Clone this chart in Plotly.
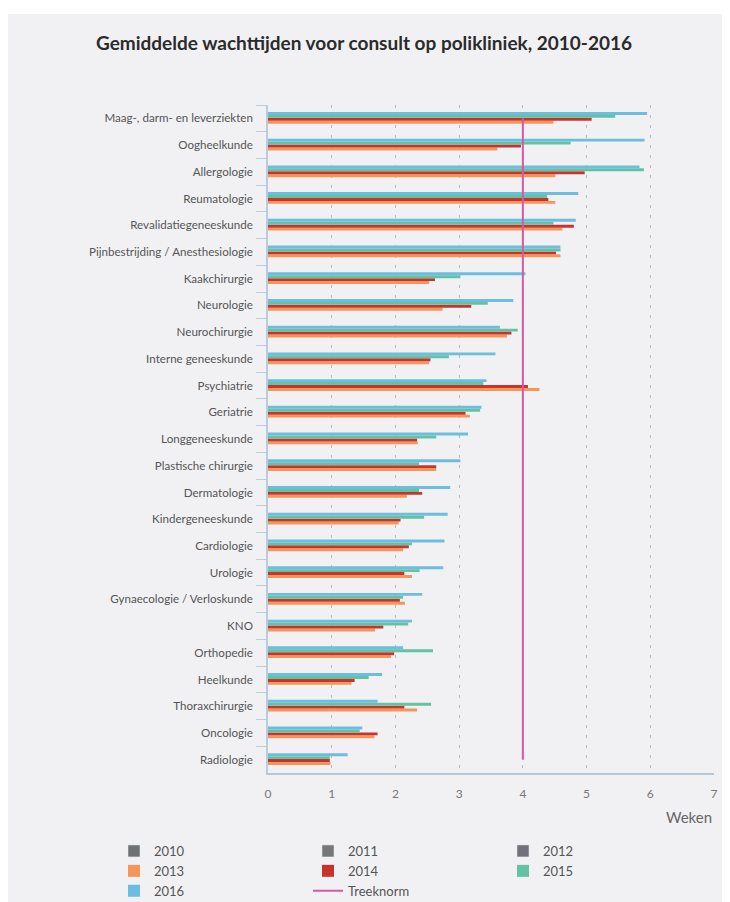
import plotly.graph_objects as go

categories = [
    "Maag-, darm- en leverziekten", "Oogheelkunde", "Allergologie", "Reumatologie",
    "Revalidatiegeneeskunde", "Pijnbestrijding / Anesthesiologie", "Kaakchirurgie",
    "Neurologie", "Neurochirurgie", "Interne geneeskunde", "Psychiatrie", "Geriatrie",
    "Longgeneeskunde", "Plastische chirurgie", "Dermatologie", "Kindergeneeskunde",
    "Cardiologie", "Urologie", "Gynaecologie / Verloskunde", "KNO", "Orthopedie",
    "Heelkunde", "Thoraxchirurgie", "Oncologie", "Radiologie",
]

v2016 = [5.95, 5.91, 5.83, 4.87, 4.83, 4.59, 4.04, 3.85, 3.64, 3.57, 3.43, 3.35,
         3.14, 3.02, 2.86, 2.82, 2.77, 2.75, 2.42, 2.26, 2.12, 1.79, 1.72, 1.48, 1.25]
v2015 = [5.45, 4.75, 5.90, 4.38, 4.48, 4.59, 3.02, 3.45, 3.92, 2.84, 3.38, 3.33,
         2.64, 2.37, 2.37, 2.45, 2.26, 2.38, 2.12, 2.20, 2.59, 1.58, 2.56, 1.44, 0.97]
v2014 = [5.08, 3.97, 4.97, 4.40, 4.80, 4.52, 2.62, 3.19, 3.82, 2.55, 4.08, 3.10,
         2.34, 2.64, 2.42, 2.08, 2.21, 2.14, 2.07, 1.81, 1.98, 1.36, 2.14, 1.72, 0.97]
v2013 = [4.48, 3.60, 4.51, 4.51, 4.62, 4.59, 2.53, 2.74, 3.75, 2.53, 4.26, 3.17,
         2.35, 2.64, 2.18, 2.05, 2.12, 2.26, 2.15, 1.68, 1.93, 1.31, 2.34, 1.67, 0.98]
# 2010-2012: listed in the legend, but no values shown in the chart
v2010 = [None]
v2011 = [None]
v2012 = [None]
treeknorm = 4

x_ticks = [0, 1, 2, 3, 4, 5, 6, 7]

# page offset (browser body margin)
OFF = 8
W, H = 730 - OFF, 902 - OFF
ML, MR, MT, MB = 268 - OFF, 16, 105 - OFF, 129
PW, PH = W - ML - MR, H - MT - MB


def px_x(page_x):
    return (page_x - OFF - ML) / PW


def px_y(page_y):
    return (MT + PH - (page_y - OFF)) / PH


fig = go.Figure()

legend_cols = {"2010": "legend", "2011": "legend2", "2012": "legend3",
               "2013": "legend", "2014": "legend2", "2015": "legend3",
               "2016": "legend", "Treeknorm": "legend2"}

for name, vals, col in [("2010", v2010, "#6f7272"), ("2011", v2011, "#777878"),
                        ("2012", v2012, "#747079")]:
    fig.add_trace(go.Bar(x=vals, y=categories[:len(vals)], orientation="h", name=name,
                         marker_color=col, legend=legend_cols[name]))

series = [
    ("2013", v2013, "#f4965a", 0.09),
    ("2014", v2014, "#c8342c", -0.02),
    ("2015", v2015, "#62c3a2", -0.13),
    ("2016", v2016, "#6cbde0", -0.24),
]
for name, vals, col, off in series:
    fig.add_trace(go.Bar(
        x=vals, y=categories, orientation="h", name=name,
        marker=dict(color=col, line=dict(width=0)),
        width=0.11, offset=off, legend=legend_cols[name],
    ))

fig.add_trace(go.Scatter(
    x=[treeknorm, treeknorm], y=[categories[0], categories[-1]],
    mode="lines", name="Treeknorm", legend=legend_cols["Treeknorm"],
    line=dict(color="#d35aa3", width=2),
))

font_fam = "Lato, Roboto, sans-serif"

leg_common = dict(orientation="v", xanchor="left", yanchor="top", xref="paper", yref="paper",
                  font=dict(size=13, color="#555555", family=font_fam),
                  bgcolor="rgba(0,0,0,0)", borderwidth=0, itemwidth=30,
                  traceorder="normal", tracegroupgap=0)

LEG_TOP = 836

fig.update_layout(
    width=W, height=H,
    paper_bgcolor="#ffffff",
    plot_bgcolor="rgba(0,0,0,0)",
    margin=dict(l=ML, r=MR, t=MT, b=MB, autoexpand=False),
    barmode="overlay",
    font=dict(family=font_fam, color="#555555", size=12),
    title=dict(
        text="<b>Gemiddelde wachttijden voor consult op polikliniek, 2010-2016</b>",
        x=(364 - OFF) / W, xref="container", xanchor="center",
        y=1 - (43 - OFF) / H, yref="container", yanchor="middle",
        font=dict(family=font_fam, size=19, color="#2b2b2b"),
    ),
    xaxis=dict(
        range=[0, 7], tickvals=x_ticks, ticktext=[str(t) for t in x_ticks],
        showgrid=True, gridcolor="#b9b9b9", griddash="3px,7px", gridwidth=1,
        zeroline=False, showline=True, linecolor="#b9c6d3", linewidth=1.5,
        ticks="", tickfont=dict(size=12, color="#777777"), ticklabelstandoff=9,
        fixedrange=True, automargin=False,
    ),
    yaxis=dict(
        type="category", categoryorder="array", categoryarray=categories,
        range=[len(categories) - 0.5, -0.5],
        showgrid=False, zeroline=False, showline=True, linecolor="#b9cde0", linewidth=1.5,
        ticks="outside", tickson="boundaries", ticklen=10, tickcolor="#b9cde0", tickwidth=1,
        tickfont=dict(size=11.6, color="#555555"), ticklabelstandoff=11,
        fixedrange=True, automargin=False,
    ),
    legend=dict(x=px_x(114), y=px_y(LEG_TOP), **leg_common),
    legend2=dict(x=px_x(308), y=px_y(LEG_TOP), **leg_common),
    legend3=dict(x=px_x(503), y=px_y(LEG_TOP), **leg_common),
    annotations=[dict(
        text="Weken", x=1, xref="paper", xanchor="right",
        y=px_y(817), yref="paper", yanchor="middle", showarrow=False,
        font=dict(size=15, color="#666666"),
    )],
    shapes=[dict(
        type="rect", xref="paper", yref="paper", layer="below",
        x0=px_x(8), x1=px_x(730), y0=px_y(902), y1=px_y(14),
        fillcolor="#f1f1f4", line=dict(width=0),
    )],
)

fig.write_html("out.html")
